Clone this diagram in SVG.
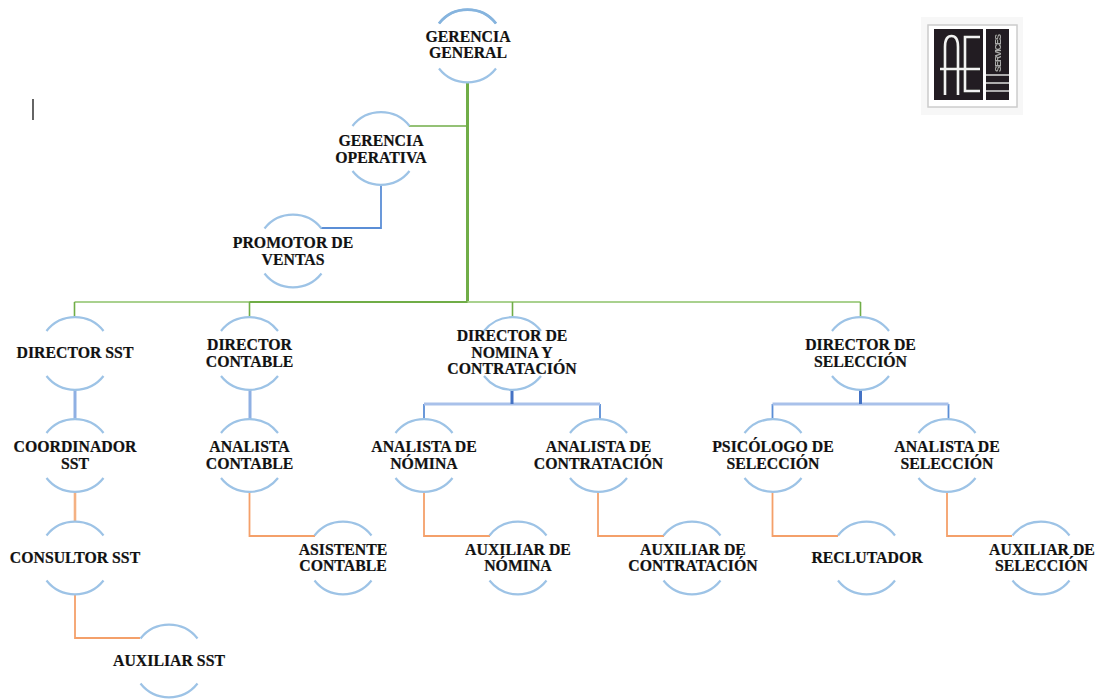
<svg xmlns="http://www.w3.org/2000/svg" width="1096" height="700" viewBox="0 0 1096 700">
<style>
.a{fill:none;stroke:#9dc3e6;stroke-width:2.2}
.t{font-family:"Liberation Serif",serif;font-size:15.8px;font-weight:bold;fill:#111;stroke:#111;stroke-width:.2;text-anchor:middle;transform:translateY(.8px)}
.g{fill:none;stroke:#70ad47;stroke-width:1.6}
.gb{fill:none;stroke:#70ad47;stroke-width:3}
.gl{fill:none;stroke:#a9d18e;stroke-width:2}
.gm{fill:none;stroke:#70ad47;stroke-width:2}
.b{fill:none;stroke:#5b8ed6;stroke-width:1.8}
.lb{fill:none;stroke:#8fb0e3;stroke-width:3}
.lh{fill:none;stroke:#a9c1ea;stroke-width:3}
.db{fill:none;stroke:#4472c4;stroke-width:3}
.o{fill:none;stroke:#f4a06a;stroke-width:1.8}
.ol{fill:none;stroke:#f4b183;stroke-width:2.6}
</style>
<defs>
<g id="c"><path class="a" d="M-28.5,-22.5A36.3,36.3 0 0 1 28.5,-22.5"/><path class="a" d="M-28.5,22.5A36.3,36.3 0 0 0 28.5,22.5"/></g>
<filter id="soft" x="-10%" y="-10%" width="120%" height="120%"><feGaussianBlur stdDeviation="0.7"/></filter>
</defs>
<rect width="1096" height="700" fill="#fff"/>
<g id="connectors">
<path class="gb" d="M467.5,83V302"/>
<path class="g" d="M409,126H467.5"/>
<path class="b" d="M381,185V228H321"/>
<path class="gl" d="M74.5,302H860.5"/>
<path class="gm" d="M249.5,302H467.5"/>
<path class="g" d="M74.5,317V302M860.5,302V317M249.5,302V317M512.5,302V317"/>
<path class="lb" d="M75,390V419M250,390V419"/>
<path class="ol" d="M75,492V521"/>
<path class="o" d="M75,594V638H140"/>
<path class="o" d="M249.5,492V536H315"/>
<path class="o" d="M424,492V536H490"/>
<path class="o" d="M598,492V536H664"/>
<path class="o" d="M772.5,492V536H838"/>
<path class="o" d="M947,492V536H1012"/>
<path class="b" d="M424,419V404M600,419V404M772.5,419V404M948.5,419V404"/>
<path class="lh" d="M424,404H600M772.5,404H948.5"/>
<path class="db" d="M512,390V404M860.5,390V404"/>
</g>
<g id="n1"><use href="#c" x="467.5" y="46"/><path d="M-28.5,-22.5A36.3,36.3 0 0 1 28.5,-22.5" transform="translate(467.5,46)" fill="none" stroke="#86b4de" stroke-width="2.8"/><text class="t" x="468" y="41">GERENCIA</text><text class="t" x="468" y="57">GENERAL</text></g>
<g id="n2"><use href="#c" x="381" y="148.5"/><text class="t" x="381" y="145">GERENCIA</text><text class="t" x="381" y="162">OPERATIVA</text></g>
<g id="n3"><use href="#c" x="293" y="251"/><text class="t" x="293" y="247">PROMOTOR DE</text><text class="t" x="293" y="264">VENTAS</text></g>
<g id="n4"><use href="#c" x="75" y="353.5"/><text class="t" x="75" y="357">DIRECTOR SST</text></g>
<g id="n5"><use href="#c" x="249.5" y="353.5"/><text class="t" x="249.5" y="349">DIRECTOR</text><text class="t" x="249.5" y="366">CONTABLE</text></g>
<g id="n6"><use href="#c" x="512.5" y="353.5"/><text class="t" x="512" y="340">DIRECTOR DE</text><text class="t" x="512" y="357">NOMINA Y</text><text class="t" x="512" y="373">CONTRATACIÓN</text></g>
<g id="n7"><use href="#c" x="860.5" y="353.5"/><text class="t" x="860.5" y="349">DIRECTOR DE</text><text class="t" x="860.5" y="366">SELECCIÓN</text></g>
<g id="n8"><use href="#c" x="75" y="455.5"/><text class="t" x="75" y="451">COORDINADOR</text><text class="t" x="75" y="468">SST</text></g>
<g id="n9"><use href="#c" x="249.5" y="455.5"/><text class="t" x="249.5" y="451">ANALISTA</text><text class="t" x="249.5" y="468">CONTABLE</text></g>
<g id="n10"><use href="#c" x="424" y="455.5"/><text class="t" x="424" y="451">ANALISTA DE</text><text class="t" x="424" y="468">NÓMINA</text></g>
<g id="n11"><use href="#c" x="598.5" y="455.5"/><text class="t" x="598.5" y="451">ANALISTA DE</text><text class="t" x="598.5" y="468">CONTRATACIÓN</text></g>
<g id="n12"><use href="#c" x="773" y="455.5"/><text class="t" x="773" y="451">PSICÓLOGO DE</text><text class="t" x="773" y="468">SELECCIÓN</text></g>
<g id="n13"><use href="#c" x="947" y="455.5"/><text class="t" x="947" y="451">ANALISTA DE</text><text class="t" x="947" y="468">SELECCIÓN</text></g>
<g id="n14"><use href="#c" x="75" y="558"/><text class="t" x="75" y="562">CONSULTOR SST</text></g>
<g id="n15"><use href="#c" x="343" y="558"/><text class="t" x="343" y="554">ASISTENTE</text><text class="t" x="343" y="570">CONTABLE</text></g>
<g id="n16"><use href="#c" x="518" y="558"/><text class="t" x="518" y="554">AUXILIAR DE</text><text class="t" x="518" y="570">NÓMINA</text></g>
<g id="n17"><use href="#c" x="692" y="558"/><text class="t" x="693" y="554">AUXILIAR DE</text><text class="t" x="693" y="570">CONTRATACIÓN</text></g>
<g id="n18"><use href="#c" x="866.5" y="558"/><text class="t" x="867" y="562">RECLUTADOR</text></g>
<g id="n19"><use href="#c" x="1041" y="558"/><text class="t" x="1042" y="554">AUXILIAR DE</text><text class="t" x="1041.5" y="570">SELECCIÓN</text></g>
<g id="n20"><use href="#c" x="169" y="661"/><text class="t" x="169" y="665">AUXILIAR SST</text></g>
<path d="M33,99V120" stroke="#111" stroke-width="1.3"/>
<g id="logo">
<rect x="921" y="17" width="102" height="98" fill="#f7f7f7"/>
<g filter="url(#soft)">
<rect x="928" y="25" width="89" height="82" fill="#fff" stroke="#ccc" stroke-width="1.5"/>
<rect x="934" y="29" width="49" height="71" fill="#231f20"/>
<rect x="986" y="29" width="23" height="71" fill="#231f20"/>
<path d="M945,95V47Q945,36 951.5,36Q958,36 958,47V95M940,69H980M980,37H965V91H980" fill="none" stroke="#f2f2f2" stroke-width="2.6"/>
<path d="M986,75H1009M986,83H1009M986,91H1009" stroke="#ddd" stroke-width="1.5"/>
<text transform="translate(1001,72) rotate(-90)" font-family="Liberation Sans,sans-serif" font-size="9" font-weight="bold" fill="#aaa" textLength="38">SERVICES</text>
</g>
</g>
</svg>
